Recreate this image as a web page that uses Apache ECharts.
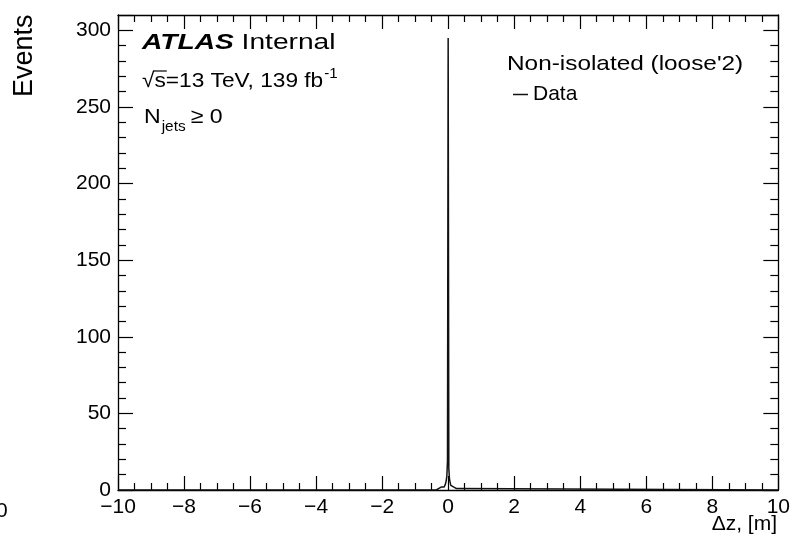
<!DOCTYPE html>
<html><head><meta charset="utf-8">
<script src="https://cdn.jsdelivr.net/npm/echarts@6/dist/echarts.min.js"></script>
<style>html,body{margin:0;padding:0;background:#fff}#c{width:793px;height:548px}</style>
</head><body><div id="c"></div>
<script>
// ---- data ----
const binWidth = 0.02;
const binLowEdges = [-0.36,-0.34,-0.32,-0.30,-0.28,-0.26,-0.24,-0.22,-0.20,-0.18,-0.16,-0.14,-0.12,-0.10,-0.08,-0.06,-0.04,-0.02,0.00,0.02,0.04,0.06,0.08,0.10,0.12,0.14,0.16,0.18,0.20,0.22,0.24,0.26,0.28,0.30,0.32];
const binCounts   = [1,0,1,1,0,1,1,1,2,1,2,2,3,3,4,6,9,19,295,14,7,5,3,3,2,2,1,2,1,1,0,1,1,0,1];
const xRange = [-10, 10];
const yRange = [0, 310];
const xTickStep = 2;
const yTickStep = 50;
const yLabelMax = 300;
const seriesName = 'Data';

// histogram outline points (bin low edges, step 'end')
const histPoints = [[xRange[0], 0]];
binLowEdges.forEach((e, i) => histPoints.push([e, binCounts[i]]));
histPoints.push([binLowEdges[binLowEdges.length - 1] + binWidth, 0]);
histPoints.push([xRange[1], 0]);

const FONT = 'Liberation Sans, Arial, Helvetica, sans-serif';
const chart = echarts.init(document.getElementById('c'), null, {renderer: 'canvas'});

const ctx = document.createElement('canvas').getContext('2d');
function tw(text, size, weight, style) {
  ctx.font = (style || 'normal') + ' ' + (weight || 'normal') + ' ' + size + 'px ' + FONT;
  return ctx.measureText(text).width;
}
const x0 = 142;
// text placed by baseline: y given is baseline, converted to middle
function T(x, base, text, size, sx, extra) {
  return {
    type: 'text', x: x, y: base - 0.30 * size, scaleX: sx, silent: true,
    style: Object.assign({text: text, font: 'normal ' + size + 'px ' + FONT, fill: '#000',
      textAlign: 'left', textVerticalAlign: 'middle'}, extra || {})
  };
}
const F1 = 22, SX1 = 1.28;
const F2 = 21, SX2 = 1.08, FS = 14;
const F3 = 21, SX3 = 1.1;
const l2 = '√s=13 TeV, 139 fb';
const l2w = tw(l2, F2) * SX2;
const nW = tw('N', F3) * SX3;
const jetsW = tw('jets', FS) * SX3;
const sW = tw('s', F2) * SX2;
const rootW = tw('√', F2) * SX2;

const axisCommon = {
  type: 'value', scale: false,
  axisLine: {show: true, onZero: false, lineStyle: {color: '#000', width: 1.3}},
  splitLine: {show: false},
};

chart.setOption({
  animation: false,
  backgroundColor: '#fff',
  grid: {left: 118, right: 14, top: 15, bottom: 58, containLabel: false},
  xAxis: [
    Object.assign({}, axisCommon, {
      min: xRange[0], max: xRange[1], interval: xTickStep, position: 'bottom',
      axisTick: {show: true, inside: true, length: 14, lineStyle: {color: '#000', width: 1.2}},
      minorTick: {show: true, splitNumber: 4, length: 7, lineStyle: {color: '#000', width: 1.2}},
      axisLabel: {show: true, margin: 7, color: '#000', fontSize: 21, fontFamily: FONT,
        formatter: v => String(v).replace('-', '\u2212')}
    }),
    Object.assign({}, axisCommon, {
      min: xRange[0], max: xRange[1], interval: xTickStep, position: 'top',
      axisTick: {show: true, inside: true, length: 14, lineStyle: {color: '#000', width: 1.2}},
      minorTick: {show: true, splitNumber: 4, length: 7, lineStyle: {color: '#000', width: 1.2}},
      axisLabel: {show: false}
    })
  ],
  yAxis: [
    Object.assign({}, axisCommon, {
      min: yRange[0], max: yRange[1], interval: yTickStep, position: 'left',
      axisTick: {show: true, inside: true, length: 15, lineStyle: {color: '#000', width: 1.2}},
      minorTick: {show: true, splitNumber: 5, length: 8, lineStyle: {color: '#000', width: 1.2}},
      axisLabel: {show: true, margin: 7, color: '#000', fontSize: 21, fontFamily: FONT,
        formatter: v => (v % yTickStep === 0 && v <= yLabelMax) ? String(v) : ''}
    }),
    Object.assign({}, axisCommon, {
      min: yRange[0], max: yRange[1], interval: yTickStep, position: 'right',
      axisTick: {show: true, inside: true, length: 15, lineStyle: {color: '#000', width: 1.2}},
      minorTick: {show: true, splitNumber: 5, length: 8, lineStyle: {color: '#000', width: 1.2}},
      axisLabel: {show: false}
    })
  ],
  legend: {
    show: true, left: 508, top: 79, orient: 'vertical',
    data: [{name: seriesName, icon: 'rect'}],
    itemWidth: 15, itemHeight: 1.5, itemGap: 5,
    textStyle: {fontSize: 21, fontFamily: FONT, color: '#000'}
  },
  series: [{
    name: seriesName, type: 'line', step: 'end', xAxisIndex: 0, yAxisIndex: 0,
    data: histPoints, showSymbol: false, symbol: 'none',
    lineStyle: {color: '#111', width: 1.5}, itemStyle: {color: '#111'}
  }],
  graphic: [
    // ATLAS Internal
    {type: 'text', x: x0, y: 50 - 0.30 * F1, scaleX: SX1, silent: true,
     style: {text: '{b|ATLAS} Internal', font: 'normal ' + F1 + 'px ' + FONT, fill: '#000',
       textVerticalAlign: 'middle',
       rich: {b: {fontWeight: 'bold', fontStyle: 'italic', fontSize: F1, fontFamily: FONT, fill: '#000'}}}},
    T(x0, 88, l2, F2, SX2),
    T(x0 + l2w + 1, 78, '-1', FS, SX2),
    {type: 'line', silent: true, shape: {x1: x0 + rootW - 1, y1: 71, x2: x0 + rootW + sW + 1, y2: 71},
     style: {stroke: '#000', lineWidth: 1.2}},
    T(x0 + 2, 124, 'N', F3, SX3),
    T(x0 + 2 + nW + 1, 131, 'jets', FS, SX3),
    T(x0 + 2 + nW + jetsW + 6, 124, '\u2265 0', F3, SX3),
    // legend header
    T(507, 71, "Non-isolated (loose'2)", 21, 1.16),
    // y axis title
    {type: 'text', x: 25, y: 97, rotation: Math.PI / 2, silent: true,
     style: {text: 'Events', font: 'normal 27px ' + FONT, fill: '#000', textAlign: 'left', textVerticalAlign: 'middle'}},
    // x axis title
    {type: 'text', x: 777, y: 524, silent: true,
     style: {text: '\u0394z, [m]', font: 'normal 21px ' + FONT, fill: '#000', textAlign: 'right', textVerticalAlign: 'middle'}},
    // clipped label from neighbouring panel
    {type: 'text', x: -4, y: 511, silent: true,
     style: {text: '0', font: 'normal 21px ' + FONT, fill: '#000', textAlign: 'left', textVerticalAlign: 'middle'}}
  ]
});
</script>
</body></html>
